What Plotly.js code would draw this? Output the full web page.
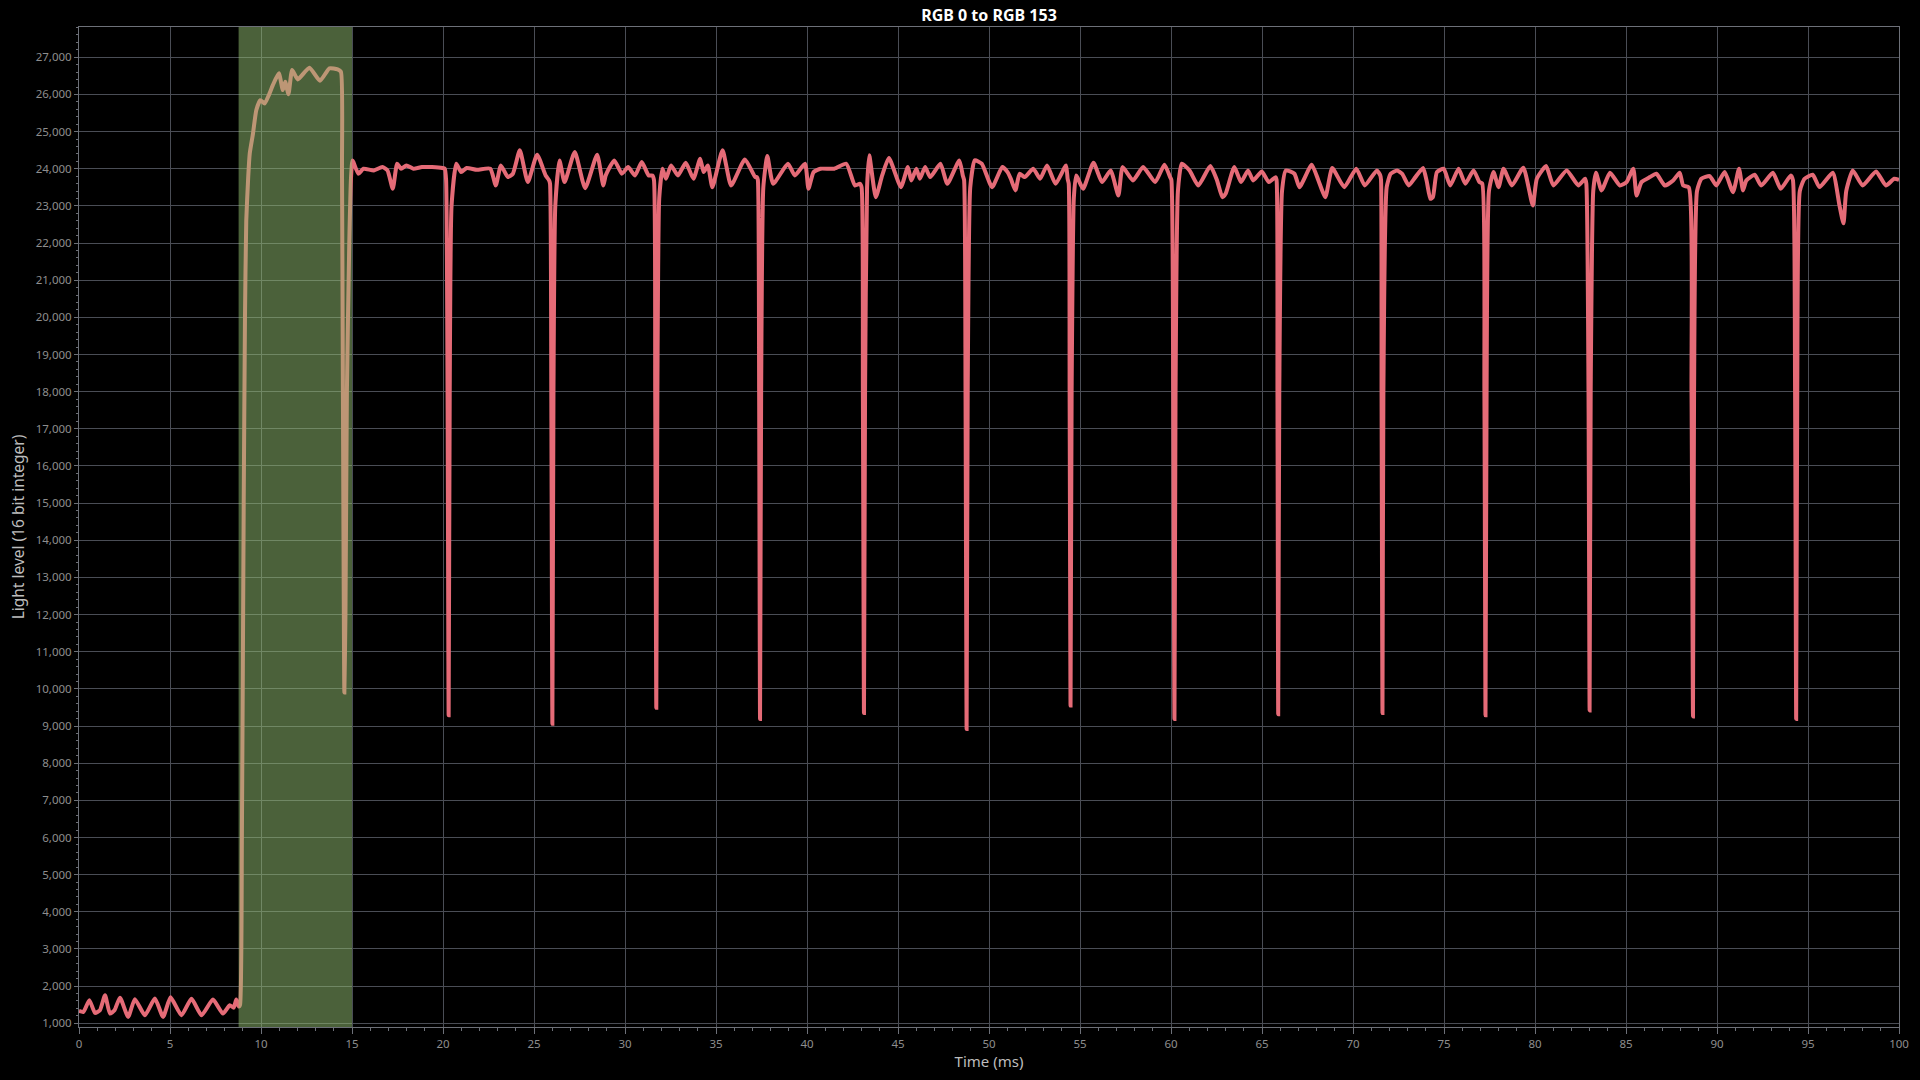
<!DOCTYPE html>
<html>
<head>
<meta charset="utf-8">
<script src="https://cdn.plot.ly/plotly-3.0.1.min.js"></script>
<style>
html,body{margin:0;padding:0;background:#000;}
#chart{width:1920px;height:1080px;}
</style>
</head>
<body>
<div id="chart"></div>
<script>
// Chart title and axis labels
const chartTitle = "RGB 0 to RGB 153";
const xTitle = "Time (ms)";
const yTitle = "Light level (16 bit integer)";

// Highlighted transition window (ms)
const windowStart = 8.77;
const windowEnd = 15.0;

const timeMs = [
  0.0, 0.24, 0.57, 0.88, 1.15, 1.43, 1.7, 1.95, 2.25, 2.7, 3.07, 3.62, 4.17, 4.62, 5.03, 5.63, 6.18, 6.73, 7.36, 7.91, 8.28, 8.5, 8.64, 8.78,
  8.85, 8.95, 9.05, 9.12, 9.19, 9.3, 9.38, 9.56, 9.74, 9.96, 10.2, 10.43, 10.65, 10.98, 11.2, 11.33, 11.51, 11.71, 12.02, 12.66, 13.24, 13.76, 14.21, 14.39,
  14.45, 14.5, 14.58, 14.64, 14.72, 14.85, 14.95,
  15.03, 15.35, 15.63, 16.2, 16.67, 16.95, 17.24, 17.48, 17.7, 17.99, 18.37, 18.84, 19.4, 19.97, 20.1,
  20.17, 20.25, 20.31, 20.37, 20.47,
  20.73, 21.0, 21.3, 21.86, 22.6, 22.9, 23.18, 23.56, 23.84, 24.22, 24.66, 25.17, 25.64, 25.83,
  25.88, 25.95, 26.01, 26.07, 26.17,
  26.4, 26.68, 27.24, 27.81, 28.47, 28.81, 28.94, 29.41, 29.83, 30.17, 30.55, 30.92, 31.3, 31.5,
  31.59, 31.66, 31.72, 31.78, 31.88,
  32.06, 32.25, 32.53, 32.91, 33.34, 33.76, 34.13, 34.32, 34.55, 34.8, 35.36, 35.83, 36.59, 37.15, 37.25,
  37.3, 37.37, 37.42, 37.48, 37.6,
  37.82, 38.14, 38.95, 39.33, 39.89, 40.08, 40.36, 40.74, 41.5, 42.16, 42.63, 42.91,
  43.0, 43.07, 43.13, 43.19, 43.3,
  43.42, 43.78, 44.13, 44.5, 45.16, 45.54, 45.73, 46.01, 46.2, 46.49, 46.77, 47.33, 47.71, 48.37, 48.56,
  48.63, 48.71, 48.77, 48.83, 48.97,
  49.22, 49.6, 50.17, 50.73, 51.02, 51.2, 51.45, 51.68, 51.96, 52.43, 52.81, 53.19, 53.66, 54.23, 54.32,
  54.38, 54.43, 54.48, 54.54, 54.66,
  54.79, 55.17, 55.74, 56.21, 56.68, 57.11, 57.34, 57.91, 58.47, 59.13, 59.64, 59.95,
  60.02, 60.12, 60.19, 60.25, 60.38,
  60.59, 61.02, 61.5, 62.16, 62.53, 62.82, 63.0, 63.48, 63.85, 64.23, 64.52, 64.99, 65.37, 65.74,
  65.8, 65.85, 65.89, 65.95, 66.1,
  66.31, 66.78, 67.06, 67.73, 68.1, 68.48, 68.86, 69.52, 70.18, 70.65, 71.31, 71.5,
  71.54, 71.57, 71.62, 71.67, 71.85,
  72.07, 72.42, 72.7, 73.06, 73.43, 73.85, 74.06, 74.25, 74.39, 74.61, 74.98, 75.34, 75.8, 76.17, 76.62, 76.95,
  77.1, 77.22, 77.28, 77.34, 77.47,
  77.72, 78.0, 78.27, 78.73, 79.36, 79.88, 80.1, 80.61, 81.01, 81.74, 82.38, 82.75,
  82.82, 82.94, 83.0, 83.06, 83.2,
  83.35, 83.66, 84.12, 84.66, 85.03, 85.4, 85.58, 85.85, 86.31, 86.67, 87.13, 87.59, 87.95, 88.14,
  88.45, 88.6, 88.68, 88.74, 88.9,
  89.14, 89.6, 89.96, 90.42, 90.88, 91.21, 91.43, 91.61, 92.07, 92.43, 93.07, 93.5, 94.05,
  94.17, 94.29, 94.35, 94.41, 94.55,
  94.81, 95.26, 95.63, 96.36, 96.73, 96.95, 97.1, 97.46, 98.0, 98.74, 99.28, 99.74, 100.0
];

const lightLevel = [
  1330, 1306, 1622, 1279, 1351, 1757, 1261, 1350, 1690, 1171, 1650, 1216, 1667, 1171, 1700, 1216, 1660, 1216, 1640, 1261, 1486, 1420, 1640, 1450,
  1500, 6000, 15000, 20000, 22600, 23800, 24405, 24946, 25576, 25846, 25756, 25981, 26251, 26568, 26116, 26341, 26008, 26657, 26405, 26720, 26368, 26703, 26676, 26611,
  24000, 18000, 9900, 12000, 18000, 22000, 23800,
  24224, 23865, 24000, 23955, 24045, 23955, 23460, 24135, 24000, 24090, 24000, 24045, 24045, 24020, 24000,
  23700, 18000, 9290, 18000, 23000,
  24135, 23910, 24020, 23970, 24000, 23550, 24090, 23775, 23865, 24495, 23640, 24378, 23820, 23685,
  23600, 18000, 9060, 18000, 23000,
  24225, 23640, 24450, 23478, 24378, 23550, 23820, 24225, 23865, 24045, 23820, 24180, 23820, 23820,
  23700, 18000, 9490, 18000, 23200,
  24000, 23730, 24090, 23820, 24162, 23730, 24270, 23910, 24090, 23505, 24495, 23550, 24252, 23775, 23775,
  23700, 18000, 9190, 18000, 23500,
  24342, 23595, 24135, 23820, 24135, 23460, 23910, 24000, 24000, 24135, 23550, 23595,
  23500, 18000, 9350, 18000, 23500,
  24360, 23235, 23820, 24288, 23505, 24045, 23685, 24000, 23730, 24045, 23775, 24135, 23595, 24225, 23820,
  23700, 18000, 8920, 18000, 23500,
  24225, 24135, 23505, 24045, 23910, 23730, 23415, 23865, 23775, 24000, 23730, 24090, 23595, 24090, 23730,
  23600, 18000, 9550, 18000, 23200,
  23820, 23460, 24162, 23640, 23955, 23280, 24045, 23685, 24045, 23640, 24108, 23775,
  23700, 18000, 9190, 18000, 23400,
  24135, 23955, 23550, 24072, 23685, 23235, 23325, 24045, 23640, 23955, 23685, 23928, 23640, 23775,
  23700, 18000, 9320, 18000, 23400,
  23955, 23865, 23505, 24108, 23685, 23235, 24018, 23505, 24000, 23550, 23955, 23820,
  23700, 18000, 9350, 18000, 23500,
  23865, 23955, 23865, 23550, 23775, 24018, 23640, 23190, 23235, 23910, 24000, 23550, 24000, 23595, 23955, 23640,
  23600, 18000, 9290, 18000, 23400,
  23910, 23505, 24000, 23550, 24027, 23010, 23730, 24072, 23550, 23955, 23550, 23730,
  23600, 18000, 9420, 18000, 23400,
  23892, 23415, 23892, 23550, 23640, 24000, 23280, 23640, 23775, 23865, 23550, 23685, 23892, 23550,
  23500, 18000, 9260, 18000, 23400,
  23730, 23802, 23550, 23910, 23370, 24000, 23415, 23685, 23838, 23550, 23892, 23460, 23820,
  23700, 18000, 9190, 18000, 23400,
  23730, 23838, 23505, 23892, 23010, 22530, 23400, 23955, 23550, 23928, 23550, 23730, 23700
];

const xTickVals = [0,5,10,15,20,25,30,35,40,45,50,55,60,65,70,75,80,85,90,95,100];

const lineColor = "#e56b77";
const gridColor = "#4a4d55";
const axisLineColor = "#6d7078";
const tickFontColor = "#8e8e8e";
const titleFontColor = "#bdbdbd";
const fontFamily = "'Noto Sans', 'Open Sans', sans-serif";

const trace = {
  type: "scatter",
  mode: "lines",
  x: timeMs,
  y: lightLevel,
  line: {color: lineColor, width: 4, shape: "spline", smoothing: 0.5},
  hoverinfo: "x+y",
  showlegend: false
};

const layout = {
  width: 1920,
  height: 1080,
  paper_bgcolor: "#000000",
  plot_bgcolor: "#000000",
  margin: {l: 79, r: 21, t: 27, b: 53},
  font: {family: fontFamily, color: tickFontColor, size: 11.5},
  title: {
    text: "<b>" + chartTitle + "</b>",
    font: {family: fontFamily, size: 16, color: "#ffffff"},
    x: 0.5, xref: "paper", xanchor: "center",
    y: 1 - 15/1080, yref: "container", yanchor: "middle"
  },
  xaxis: {
    range: [0, 100],
    tickvals: xTickVals,
    ticks: "outside",
    ticklen: 6,
    tickcolor: axisLineColor,
    tickfont: {family: fontFamily, size: 11.5, color: tickFontColor},
    showgrid: true,
    gridcolor: gridColor,
    gridwidth: 1,
    zeroline: false,
    showline: true,
    linecolor: axisLineColor,
    linewidth: 1,
    mirror: true,
    minor: {dtick: 1, ticks: "outside", ticklen: 3, tickcolor: axisLineColor, showgrid: false},
    title: {text: xTitle, font: {family: fontFamily, size: 15, color: titleFontColor}, standoff: 5}
  },
  yaxis: {
    range: [900, 27815],
    dtick: 1000,
    tick0: 0,
    tickformat: ",d",
    ticks: "outside",
    ticklen: 4,
    tickcolor: axisLineColor,
    tickfont: {family: fontFamily, size: 11.5, color: tickFontColor},
    showgrid: true,
    gridcolor: gridColor,
    gridwidth: 1,
    zeroline: false,
    showline: true,
    linecolor: axisLineColor,
    linewidth: 1,
    mirror: true,
    minor: {dtick: 200, ticks: "outside", ticklen: 2, tickcolor: axisLineColor, showgrid: false},
    title: {text: yTitle, font: {family: fontFamily, size: 15.5, color: titleFontColor}, standoff: 7}
  },
  shapes: [{
    type: "rect",
    xref: "x", yref: "paper",
    x0: windowStart, x1: windowEnd, y0: 0, y1: 1,
    fillcolor: "rgba(150,194,116,0.5)",
    line: {width: 0},
    layer: "above"
  }]
};

Plotly.newPlot("chart", [trace], layout, {displayModeBar: false, responsive: false});
</script>
</body>
</html>
